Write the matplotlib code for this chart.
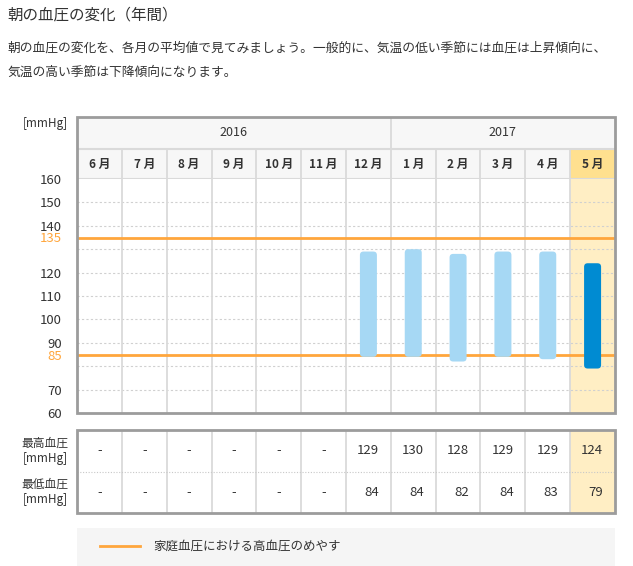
import matplotlib.pyplot as plt
from matplotlib.patches import Rectangle, FancyBboxPatch
import numpy as np

plt.rcParams['font.family'] = ['Noto Sans CJK JP', 'DejaVu Sans']

W, H = 633, 566

title = '朝の血圧の変化（年間）'
body_lines = ['朝の血圧の変化を、各月の平均値で見てみましょう。一般的に、気温の低い季節には血圧は上昇傾向に、',
              '気温の高い季節は下降傾向になります。']
years = ['2016', '2017']
year_spans = [7, 5]
months = ['6 月', '7 月', '8 月', '9 月', '10 月', '11 月', '12 月', '1 月', '2 月', '3 月', '4 月', '5 月']
systolic = [None, None, None, None, None, None, 129, 130, 128, 129, 129, 124]
diastolic = [None, None, None, None, None, None, 84, 84, 82, 84, 83, 79]
yticks = [160, 150, 140, 135, 120, 110, 100, 90, 85, 70, 60]
limits = [135, 85]
row_labels = ['最高血圧\n[mmHg]', '最低血圧\n[mmHg]']
legend_label = '家庭血圧における高血圧のめやす'
current = 11

ORANGE = '#FFA63C'
LIGHT_BLUE = '#A6D8F4'
DARK_BLUE = '#008BD2'
HILITE = '#FFEEC4'
HILITE_HEAD = '#FFE08F'
HEAD_BG = '#F7F7F7'
BORDER = '#9C9C9C'
INNER = '#DADADA'
TEXT = '#333333'

fig = plt.figure(figsize=(W / 100, H / 100), dpi=100)


def rect(x0, y0, x1, y1):
    # pixel box (top-left origin) -> figure fraction rect
    return [x0 / W, 1 - y1 / H, (x1 - x0) / W, (y1 - y0) / H]


def fx(x):
    return x / W


def fy(y):
    return 1 - y / H


n = len(months)
L, R = 77, 615

# title and description
fig.text(fx(7), fy(15), title, fontsize=11.2, color=TEXT, va='center', ha='left')
for i, line in enumerate(body_lines):
    fig.text(fx(7), fy(48 + 24 * i), line, fontsize=9.2, color=TEXT, va='center', ha='left')

# header (years + months)
hdr = fig.add_axes(rect(L, 117, R, 179))
hdr.set_xlim(0, n)
hdr.set_ylim(0, 62)
hdr.axis('off')
hdr.add_patch(Rectangle((0, 0), n, 62, color=HEAD_BG, lw=0))
hdr.add_patch(Rectangle((current, 0), 1, 30, color=HILITE_HEAD, lw=0))
hdr.axhline(30, color=INNER, lw=1.5)
hdr.axhline(0, color=INNER, lw=1.5)
for i in range(1, n):
    hdr.plot([i, i], [0, 30], color=INNER, lw=1.3)
start = 0
for yr, span in zip(years, year_spans):
    hdr.text(start + span / 2, 46, yr, ha='center', va='center', fontsize=9, color=TEXT)
    if start > 0:
        hdr.plot([start, start], [30, 62], color=INNER, lw=1.3)
    start += span
for i, m in enumerate(months):
    hdr.text(i + 0.5, 15, m, ha='center', va='center', fontsize=8.5, color=TEXT, fontweight='bold')

# main plot
ax = fig.add_axes(rect(L, 179, R, 413))
ax.set_xlim(0, n)
ax.set_ylim(60, 160)
for s in ax.spines.values():
    s.set_visible(False)
ax.add_patch(Rectangle((current, 60), 1, 100, color=HILITE, lw=0, zorder=0))
for g in range(70, 160, 10):
    ax.axhline(g, color='#D0D0D0', lw=0.8, ls=(0, (2, 2)), zorder=1)
for i in range(1, n):
    ax.axvline(i, color=INNER, lw=1.3, zorder=1)
for lv in limits:
    ax.axhline(lv, color=ORANGE, lw=2, zorder=3)

bw = 17 / 44.83
asp = (100 / 234) / (1 / 44.83)
for i, (hi, lo) in enumerate(zip(systolic, diastolic)):
    if hi is None:
        continue
    c = DARK_BLUE if i == current else LIGHT_BLUE
    ax.add_patch(FancyBboxPatch((i + 0.5 - bw / 2, lo), bw, hi - lo,
                                boxstyle='round,pad=0,rounding_size=0.08',
                                mutation_aspect=asp, fc=c, ec='none', zorder=4))

ax.set_xticks([])
ax.set_yticks(yticks)
ax.set_yticklabels([str(t) for t in yticks], fontsize=9.5, color=TEXT)
ax.tick_params(axis='y', length=0, pad=11)
for lab, t in zip(ax.get_yticklabels(), yticks):
    if t in limits:
        lab.set_color(ORANGE)

fig.text(fx(68), fy(124), '[mmHg]', ha='right', va='center', fontsize=8.5, color=TEXT)

# outer border of chart block
fig.add_artist(Rectangle((fx(L), fy(413)), (R - L) / W, (413 - 117) / H,
                         transform=fig.transFigure, fill=False, ec=BORDER, lw=2))

# value table
tb = fig.add_axes(rect(L, 430, R, 513))
tb.set_xlim(0, n)
tb.set_ylim(0, 2)
tb.axis('off')
tb.add_patch(Rectangle((current, 0), 1, 2, color=HILITE, lw=0))
for i in range(1, n):
    tb.plot([i, i], [0, 2], color=INNER, lw=1.3)
tb.plot([0, n], [1, 1], color='#C8C8C8', lw=0.8, ls=(0, (1, 1.5)))
for r, vals in enumerate([systolic, diastolic]):
    yc = 1.5 - r
    for i, v in enumerate(vals):
        if v is None:
            tb.text(i + 0.5, yc, '-', ha='center', va='center', fontsize=9.5, color=TEXT)
        else:
            tb.text(i + 0.74, yc, str(v), ha='right', va='center', fontsize=9.5, color=TEXT)
    fig.text(fx(68), fy(451 + 41 * r), row_labels[r], ha='right', va='center',
             fontsize=8.5, color=TEXT, linespacing=1.15)
fig.add_artist(Rectangle((fx(L), fy(513)), (R - L) / W, (513 - 430) / H,
                         transform=fig.transFigure, fill=False, ec=BORDER, lw=2))

# legend box
fig.add_artist(Rectangle((fx(L), fy(566)), (R - L) / W, (566 - 528) / H,
                         transform=fig.transFigure, color='#F5F5F5', lw=0))
fig.add_artist(plt.Line2D([fx(100), fx(140)], [fy(546), fy(546)], color=ORANGE, lw=2))
fig.text(fx(153), fy(546), legend_label, ha='left', va='center', fontsize=9, color=TEXT)

fig.savefig('out.png', dpi=100)
